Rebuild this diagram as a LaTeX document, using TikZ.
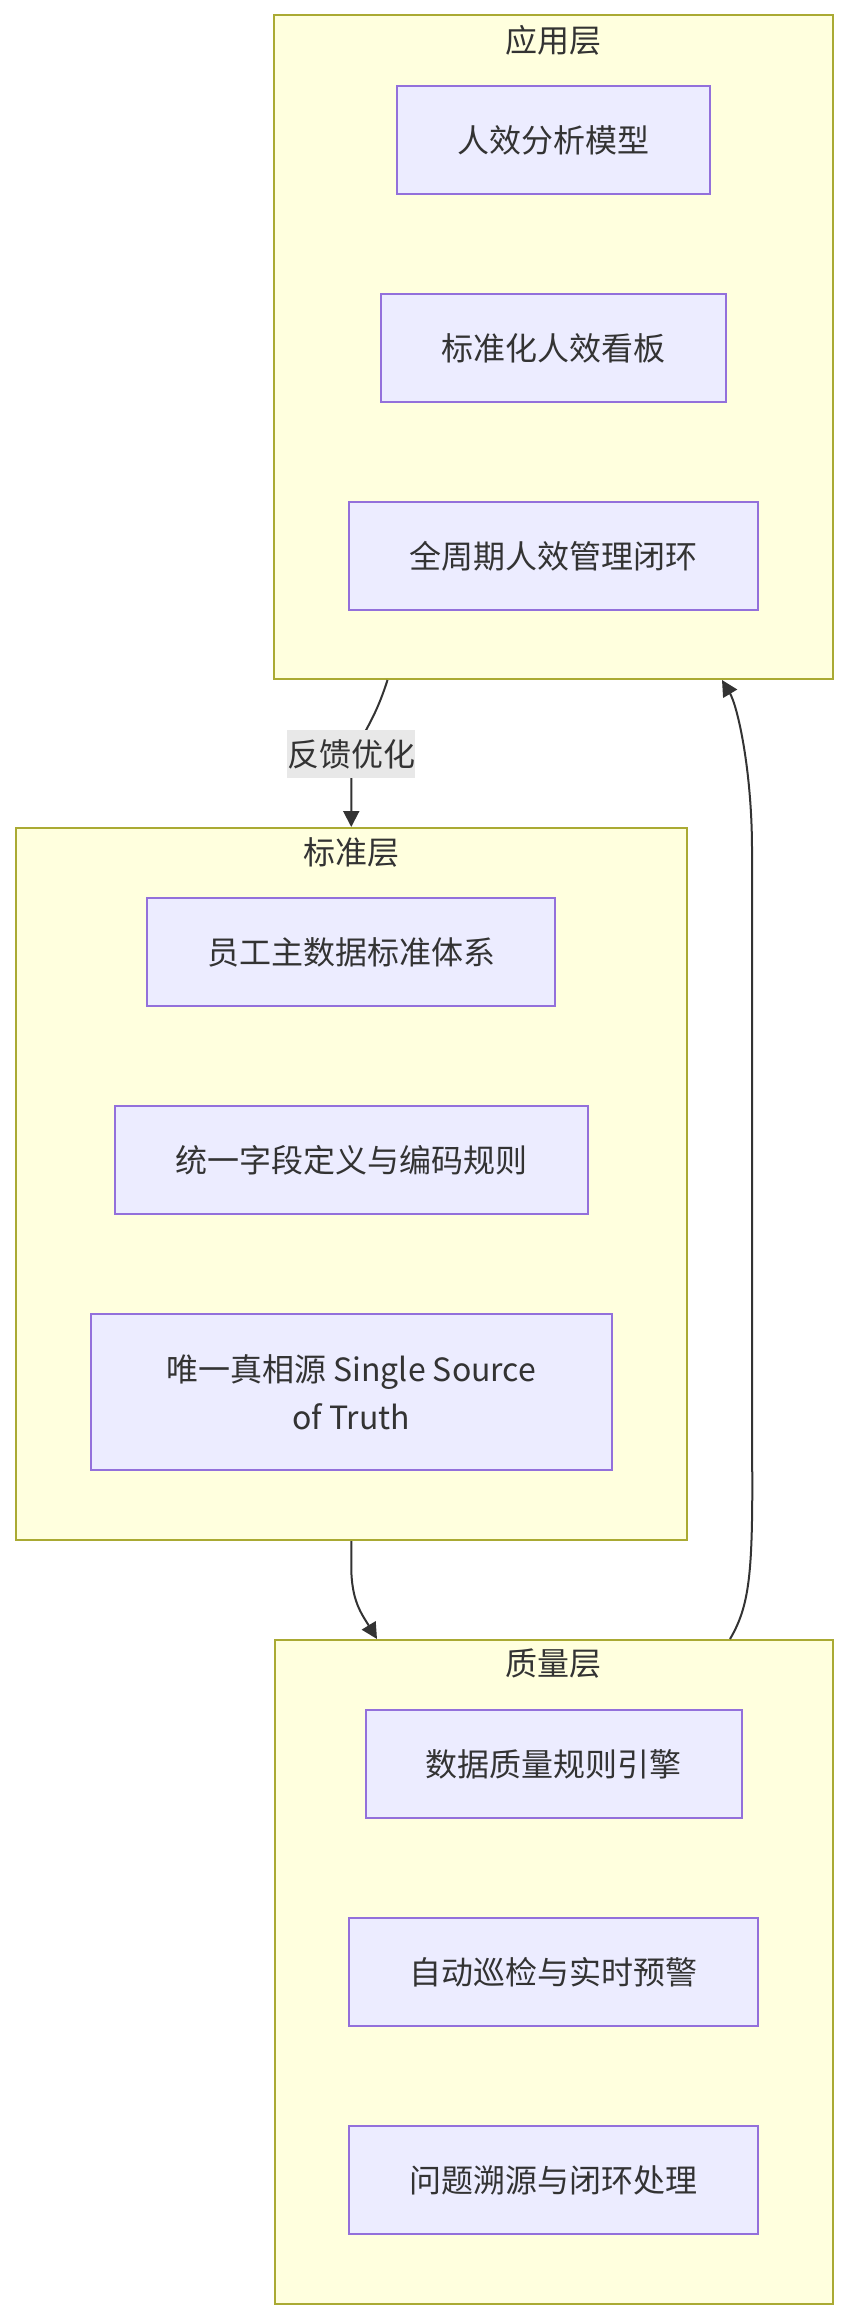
\documentclass[tikz,border=0pt]{standalone}
\usepackage{fontspec}
\setmainfont{Noto Sans CJK SC}
\usetikzlibrary{arrows.meta}
\definecolor{clfill}{HTML}{FFFFDE}
\definecolor{clline}{HTML}{AAAA33}
\definecolor{ndfill}{HTML}{ECECFF}
\definecolor{ndline}{HTML}{9370DB}
\definecolor{txt}{HTML}{333333}
\definecolor{lblbg}{HTML}{E8E8E8}
\tikzset{
  cluster/.style={draw=clline, fill=clfill, line width=2pt, inner sep=0pt},
  box/.style={draw=ndline, fill=ndfill, line width=2pt, inner sep=0pt, minimum height=108pt, text=txt, font=\fontsize{32}{48}\selectfont, align=center},
  ttl/.style={text=txt, font=\fontsize{32}{48}\selectfont, inner sep=0pt},
  lbl/.style={fill=lblbg, text=txt, font=\fontsize{32}{48}\selectfont, inner sep=0pt, minimum width=128pt, minimum height=48pt},
  conn/.style={draw=txt, line width=2pt, -{Triangle[length=16pt,width=16pt]}}
}
\begin{document}
\begin{tikzpicture}[x=1pt,y=-1pt]
\useasboundingbox (0,0) rectangle (848,2320);
% clusters
\node[cluster, minimum width=559pt, minimum height=663.5pt] (app) at (553.5,347.25) {};
\node[cluster, minimum width=670.5pt, minimum height=712pt] (std) at (351.25,1184) {};
\node[cluster, minimum width=558.5pt, minimum height=663.5pt] (qual) at (553.75,1971.75) {};
% titles
\node[ttl] (appt) at (553.5,40) {应用层};
\node[ttl] (stdt) at (351.25,852) {标准层};
\node[ttl] (qualt) at (553.75,1664) {质量层};
% application nodes
\node[box, minimum width=313pt] (a1) at (553.5,140) {人效分析模型};
\node[box, minimum width=345pt] (a2) at (553.5,348) {标准化人效看板};
\node[box, minimum width=409pt] (a3) at (553.5,556) {全周期人效管理闭环};
% standard nodes
\node[box, minimum width=408pt] (s1) at (351.25,952) {员工主数据标准体系};
\node[box, minimum width=472.5pt] (s2) at (351.25,1160) {统一字段定义与编码规则};
\node[box, minimum width=521.5pt, minimum height=156pt] (s3) at (351.25,1392) {唯一真相源 Single Source\\of Truth};
% quality nodes
\node[box, minimum width=376.5pt] (q1) at (553.75,1764) {数据质量规则引擎};
\node[box, minimum width=409pt] (q2) at (553.5,1972) {自动巡检与实时预警};
\node[box, minimum width=409pt] (q3) at (553.5,2180) {问题溯源与闭环处理};
% edges
\draw[conn] ([xshift=-166pt]app.south) .. controls ([xshift=-185pt,yshift=-60pt]app.south) and ([yshift=90pt]std.north) .. ([yshift=40pt]std.north) -- (std.north);
\node[lbl] (fb) at (351,754) {反馈优化};
\draw[conn] (std.south) -- ([yshift=-25pt]std.south) .. controls ([yshift=-60pt]std.south) and ([xshift=-192pt,yshift=25pt]qual.north) .. ([xshift=-176.75pt]qual.north);
\draw[conn] ([xshift=176.25pt]qual.north) .. controls ([xshift=194pt,yshift=30pt]qual.north) and ([xshift=198pt,yshift=60pt]qual.north) .. ([xshift=198.5pt,yshift=140pt]qual.north) -- ([xshift=198.5pt,yshift=-170pt]app.south) .. controls ([xshift=198.5pt,yshift=-90pt]app.south) and ([xshift=184pt,yshift=-26pt]app.south) .. ([xshift=168.5pt]app.south);
\end{tikzpicture}
\end{document}
